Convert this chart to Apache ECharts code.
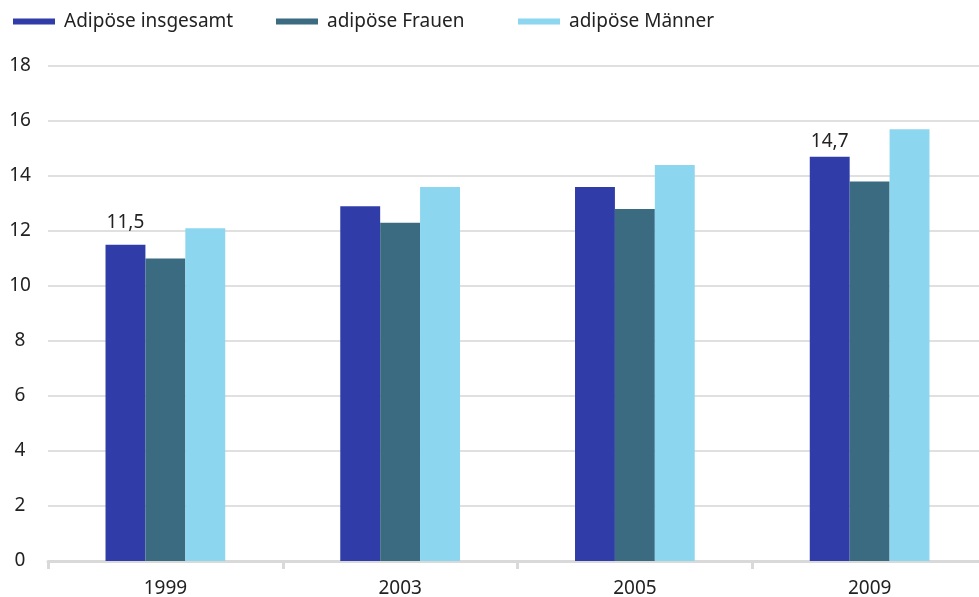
<!DOCTYPE html>
<html>
<head>
<meta charset="utf-8">
<script src="https://cdn.jsdelivr.net/npm/echarts@6/dist/echarts.min.js"></script>
<style>html,body{margin:0;padding:0;background:#fff}#c{width:979px;height:597px}</style>
</head>
<body>
<div id="c"></div>
<script>
var categories = ['1999', '2003', '2005', '2009'];
var seriesNames = ['Adipöse insgesamt', 'adipöse Frauen', 'adipöse Männer'];
var insgesamt = [11.5, 12.9, 13.6, 14.7];
var frauen = [11.0, 12.3, 12.8, 13.8];
var maenner = [12.1, 13.6, 14.4, 15.7];
var labelledIdx = [0, 3];
var yTicks = [0, 2, 4, 6, 8, 10, 12, 14, 16, 18];

var font = 'Noto Sans';
var chart = echarts.init(document.getElementById('c'));
var colors = ['#303da8', '#3b6b80', '#8cd6ef'];
var legendLefts = [8, 271, 513];
var labelDistances = { 0: 13, 3: 6 };
function mk(name, data, color, lbl) {
  return {
    name: name, type: 'bar', barGap: '0%', barCategoryGap: '49%',
    itemStyle: { color: color },
    data: data.map(function (v, i) {
      var o = { value: v };
      if (lbl && labelledIdx.indexOf(i) >= 0) {
        o.label = { show: true, position: 'top', distance: labelDistances[i], color: '#222', fontSize: 19, fontFamily: font,
          formatter: function (p) { return String(p.value.toFixed(1)).replace('.', ','); } };
      }
      return o;
    })
  };
}
chart.setOption({
  animation: false,
  textStyle: { fontFamily: font },
  legend: seriesNames.map(function (n, i) {
    return {
      left: legendLefts[i], top: 7, itemWidth: 42, itemHeight: 6,
      icon: 'rect',
      textStyle: { fontSize: 19, color: '#222', fontFamily: font, padding: [0, 0, 0, 4] },
      data: [n]
    };
  }),
  grid: { left: 48, width: 939, top: 66, bottom: 36, containLabel: false, outerBoundsMode: 'none' },
  xAxis: {
    type: 'category', data: categories,
    axisLine: { lineStyle: { color: '#d9d9d9', width: 3 } },
    axisTick: { show: true, length: 8, lineStyle: { color: '#d9d9d9', width: 3 } },
    axisLabel: { fontSize: 19, color: '#222', margin: 18, fontFamily: font }
  },
  yAxis: {
    type: 'value', min: 0, max: 18, interval: 2,
    axisLine: { show: false }, axisTick: { show: false },
    axisLabel: { fontSize: 19, color: '#222', margin: 28, align: 'center', fontFamily: font,
      formatter: function (v) { return yTicks.indexOf(v) >= 0 ? String(v) : ''; } },
    splitLine: { lineStyle: { color: '#e0e0e0', width: 2 } }
  },
  series: [
    mk(seriesNames[0], insgesamt, colors[0], true),
    mk(seriesNames[1], frauen, colors[1], false),
    mk(seriesNames[2], maenner, colors[2], false)
  ]
});
</script>
</body>
</html>
